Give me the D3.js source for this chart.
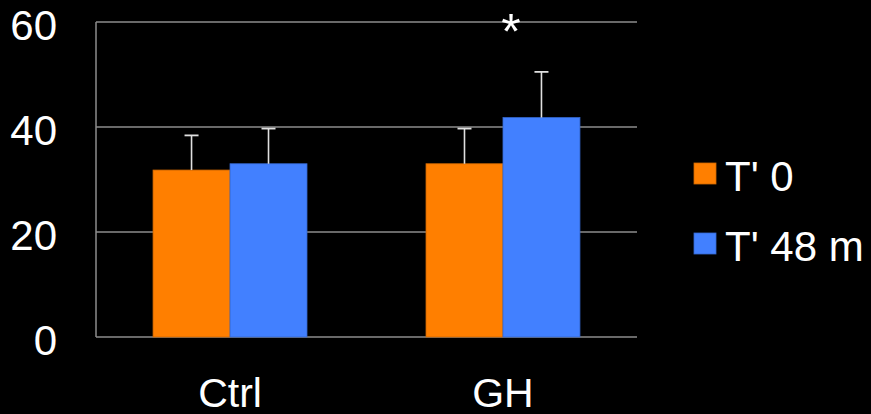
<!DOCTYPE html>
<html>
<head>
<meta charset="utf-8">
<script src="https://cdn.jsdelivr.net/npm/d3@7"></script>
<style>
  html, body { margin: 0; padding: 0; background: #000; }
  svg { display: block; }
  text { font-family: "Liberation Sans", Arial, Helvetica, sans-serif; fill: #fff; }
</style>
</head>
<body>
<svg id="chart" width="871" height="414"></svg>
<script>
// Group means with upward SE bars, two time points per group
const categories = ["Ctrl", "GH"];
const seriesNames = ["T' 0", "T' 48 m"];
const seriesColors = ["#ff7f00", "#4280ff"];
const meanT0 = [31.8, 33];
const meanT48 = [33, 41.8];
const errT0 = [6.6, 6.7];
const errT48 = [6.7, 8.7];
const yTicks = [0, 20, 40, 60];
const significance = ["", "*"];

const svg = d3.select("#chart");
const plotLeft = 96, plotRight = 637, plotTop = 22, plotBottom = 337;

const rows = categories.map((c, i) => ({
  cat: c,
  vals: [
    { s: 0, v: meanT0[i], e: errT0[i] },
    { s: 1, v: meanT48[i], e: errT48[i] }
  ],
  sig: significance[i]
}));

const x = d3.scaleBand().domain(categories).range([plotLeft, plotRight])
  .paddingInner(0.436).paddingOuter(0.209);
const xs = d3.scaleBand().domain([0, 1]).range([0, x.bandwidth()]);
const y = d3.scaleLinear().domain([0, 60]).range([plotBottom, plotTop]);

// gridlines (including baseline)
svg.append("g").selectAll("line").data(yTicks).join("line")
  .attr("x1", plotLeft).attr("x2", plotRight)
  .attr("y1", d => y(d)).attr("y2", d => y(d))
  .attr("stroke", "#8c8c8c").attr("stroke-width", 1.5);

// left axis line
svg.append("line")
  .attr("x1", plotLeft).attr("x2", plotLeft)
  .attr("y1", y(60)).attr("y2", y(0))
  .attr("stroke", "#8c8c8c").attr("stroke-width", 1.5);

// y tick labels
svg.append("g").selectAll("text").data(yTicks).join("text")
  .attr("x", 57).attr("y", d => y(d) + 18)
  .attr("text-anchor", "end")
  .attr("font-size", 42)
  .text(d => d);

// bars
const groups = svg.append("g").selectAll("g").data(rows).join("g")
  .attr("transform", d => `translate(${x(d.cat)},0)`);

groups.selectAll("rect").data(d => d.vals).join("rect")
  .attr("x", d => xs(d.s)).attr("width", xs.bandwidth())
  .attr("y", d => y(d.v)).attr("height", d => y(0) - y(d.v))
  .attr("fill", d => seriesColors[d.s])
  .attr("stroke", d => d3.color(seriesColors[d.s]).darker(0.6))
  .attr("stroke-width", 0.8);

// error bars (upper only)
const eb = groups.selectAll("g.err").data(d => d.vals).join("g").attr("class", "err");
eb.append("line")
  .attr("x1", d => xs(d.s) + xs.bandwidth() / 2).attr("x2", d => xs(d.s) + xs.bandwidth() / 2)
  .attr("y1", d => y(d.v)).attr("y2", d => y(d.v + d.e))
  .attr("stroke", "#e0e0e0").attr("stroke-width", 1.6);
eb.append("line")
  .attr("x1", d => xs(d.s) + xs.bandwidth() / 2 - 7).attr("x2", d => xs(d.s) + xs.bandwidth() / 2 + 7)
  .attr("y1", d => y(d.v + d.e)).attr("y2", d => y(d.v + d.e))
  .attr("stroke", "#e0e0e0").attr("stroke-width", 1.8);

// significance marker
groups.append("text")
  .attr("x", x.bandwidth() / 2 + 8)
  .attr("y", 49)
  .attr("text-anchor", "middle")
  .attr("font-size", 50)
  .text(d => d.sig);

// category labels
svg.append("g").selectAll("text").data(categories).join("text")
  .attr("x", d => x(d) + x.bandwidth() / 2)
  .attr("y", 407)
  .attr("text-anchor", "middle")
  .attr("font-size", 41)
  .text(d => d);

// legend
const legendY = [173.5, 243.5];
const lg = svg.append("g").selectAll("g").data(seriesNames).join("g")
  .attr("transform", (d, i) => `translate(694,${legendY[i]})`);
lg.append("rect")
  .attr("x", 0).attr("y", -10.5).attr("width", 22).attr("height", 21)
  .attr("fill", (d, i) => seriesColors[i])
  .attr("stroke", (d, i) => d3.color(seriesColors[i]).darker(0.6))
  .attr("stroke-width", 0.8);
lg.append("text")
  .attr("x", 31).attr("y", 17)
  .attr("font-size", 42)
  .text(d => d);
</script>
</body>
</html>
